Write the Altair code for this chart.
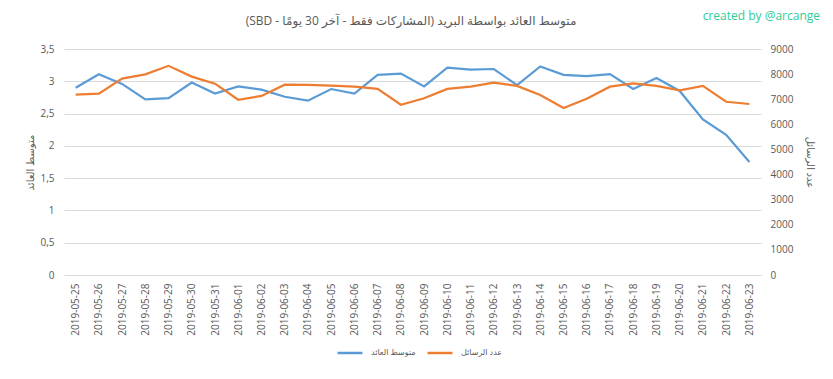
import altair as alt
import pandas as pd

dates = ["2019-05-25", "2019-05-26", "2019-05-27", "2019-05-28", "2019-05-29", "2019-05-30",
         "2019-05-31", "2019-06-01", "2019-06-02", "2019-06-03", "2019-06-04", "2019-06-05",
         "2019-06-06", "2019-06-07", "2019-06-08", "2019-06-09", "2019-06-10", "2019-06-11",
         "2019-06-12", "2019-06-13", "2019-06-14", "2019-06-15", "2019-06-16", "2019-06-17",
         "2019-06-18", "2019-06-19", "2019-06-20", "2019-06-21", "2019-06-22", "2019-06-23"]
avg_payout = [2.90, 3.11, 2.96, 2.72, 2.74, 2.98, 2.81, 2.92, 2.87, 2.76, 2.70, 2.88,
              2.81, 3.10, 3.12, 2.92, 3.21, 3.18, 3.19, 2.94, 3.23, 3.10, 3.08, 3.11,
              2.88, 3.05, 2.85, 2.41, 2.17, 1.75]
post_count = [7180, 7220, 7820, 7990, 8330, 7900, 7620, 6980, 7130, 7580, 7570, 7540,
              7500, 7410, 6780, 7040, 7410, 7500, 7660, 7530, 7170, 6650, 7020, 7500,
              7630, 7530, 7350, 7530, 6900, 6810]

s_avg = "متوسط العائد"
s_cnt = "عدد الرسائل"
title_text = ["\u202bمتوسط العائد بواسطة البريد (المشاركات فقط - آخر 30 يومًا - SBD)\u202c"]
credit = ["created by @arcange"]

df = pd.DataFrame({"date": dates, "avg": avg_payout, "cnt": post_count})

FONT = "Open Sans, DejaVu Sans, sans-serif"
GREY = "#595959"

x_enc = alt.X("date:N", sort=None, title=None,
              scale=alt.Scale(paddingInner=0, paddingOuter=0.5),
              axis=alt.Axis(labelAngle=-90, ticks=False, domain=False, labelPadding=8,
                            labelColor=GREY, labelFont=FONT, labelFontSize=10))

color_scale = alt.Scale(domain=[s_avg, s_cnt], range=["#5b9bd5", "#ed7d31"])
legend = alt.Legend(title=None, orient="none", direction="horizontal",
                    legendX=272, legendY=290, symbolType="stroke", symbolSize=625,
                    symbolStrokeWidth=2.5, labelFont=FONT, labelFontSize=8,
                    labelColor=GREY, columnPadding=6, labelOffset=7)

base = alt.Chart(df)

line_avg = base.mark_line(strokeWidth=2.2).encode(
    x=x_enc,
    y=alt.Y("avg:Q", title=s_avg,
            scale=alt.Scale(domain=[0, 3.5], nice=False, zero=True),
            axis=alt.Axis(values=[0, 0.5, 1, 1.5, 2, 2.5, 3, 3.5],
                          labelExpr="replace(toString(datum.value), '.', ',')",
                          ticks=False, domain=False, grid=True, gridColor="#d9d9d9",
                          labelPadding=10, labelColor=GREY, labelFont=FONT, labelFontSize=10,
                          titleColor=GREY, titleFont=FONT, titleFontSize=10,
                          titleFontWeight="normal", titlePadding=4)),
    color=alt.Color("s:N", scale=color_scale, legend=legend),
).transform_calculate(s=f"'{s_avg}'")

line_cnt = base.mark_line(strokeWidth=2.2).encode(
    x=x_enc,
    y=alt.Y("cnt:Q", title=s_cnt,
            scale=alt.Scale(domain=[0, 9000], nice=False, zero=True),
            axis=alt.Axis(orient="right", values=list(range(0, 9001, 1000)), format="d",
                          ticks=False, domain=False, grid=False,
                          labelPadding=9, labelColor=GREY, labelFont=FONT, labelFontSize=10,
                          titleColor=GREY, titleFont=FONT, titleFontSize=10,
                          titleFontWeight="normal", titlePadding=12)),
    color=alt.Color("s:N", scale=color_scale, legend=legend),
).transform_calculate(s=f"'{s_cnt}'")

credit_text = alt.Chart(pd.DataFrame({"t": credit})).mark_text(
    align="right", baseline="middle", font=FONT, fontSize=12, color="#2ecc9a"
).encode(text="t:N", x=alt.value(756), y=alt.value(-33))

title_mark = alt.Chart(pd.DataFrame({"t": title_text})).mark_text(
    align="center", baseline="middle", font=FONT, fontSize=12, color=GREY
).encode(text="t:N", x=alt.value(347), y=alt.value(-28))

chart = alt.layer(line_avg, line_cnt, credit_text, title_mark).resolve_scale(y="independent").properties(
    width=697, height=226,
    padding={"left": 56, "top": 41, "right": 64, "bottom": 90},
    autosize=alt.AutoSizeParams(type="none"),
).configure_view(stroke=None)

chart.save("out.html", embed_options={"renderer": "svg", "actions": False})
